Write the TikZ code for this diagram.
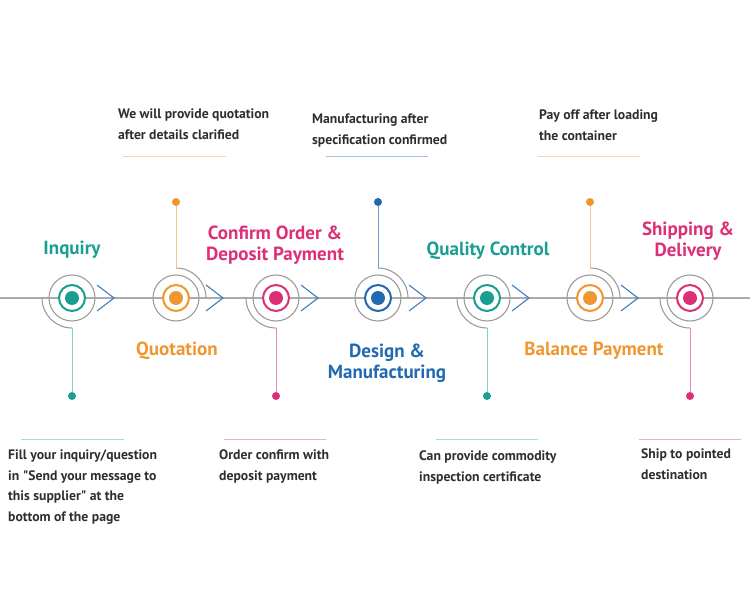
\documentclass[tikz,border=0pt]{standalone}
\usepackage{fontspec}
\setmainfont{PT Sans}
\usepackage{xcolor}

\definecolor{tealc}{HTML}{1A9E94}
\definecolor{orangec}{HTML}{F0962E}
\definecolor{pinkc}{HTML}{DC2F78}
\definecolor{bluec}{HTML}{2169B0}
\definecolor{ringgray}{HTML}{9C9C9C}
\definecolor{axisgray}{HTML}{ABABAB}
\definecolor{chevblue}{HTML}{3C7EC3}
\definecolor{textdark}{HTML}{2E2E2E}
\definecolor{tealline}{HTML}{7FCFCB}
\definecolor{orangeline}{HTML}{F6C690}
\definecolor{pinkline}{HTML}{E887B0}
\definecolor{blueline}{HTML}{6C9DCF}
\definecolor{tealrule}{HTML}{A6DCD9}
\definecolor{orangerule}{HTML}{F7D3A6}
\definecolor{pinkrule}{HTML}{EDAECB}
\definecolor{bluerule}{HTML}{A6C1DF}

\begin{document}
\begin{tikzpicture}[x=1pt,y=1pt,
  ring/.style={circle,draw=ringgray,line width=1.1pt,minimum size=46pt,inner sep=0pt},
  core/.style={circle,draw=#1,fill=white,line width=2pt,minimum size=26pt,inner sep=0pt},
  dot/.style={circle,fill=#1,minimum size=14pt,inner sep=0pt},
  tip/.style={circle,fill=#1,minimum size=8pt,inner sep=0pt},
  arcline/.style={draw=ringgray,line width=1.1pt},
  chev/.style={draw=chevblue,line width=1.1pt},
  title/.style={font=\bfseries\fontsize{19}{21}\selectfont,text=#1,align=center,inner sep=0pt},
  desc/.style={font=\bfseries\fontsize{13.7}{20.5}\selectfont,text=textdark,align=left,anchor=north west,inner sep=0pt}]
\useasboundingbox (0,0) rectangle (750,-599);

% axis
\draw[draw=axisgray,line width=1.1pt] (0,-298) -- (750,-298);

% stage 1: inquiry
\node[ring] (s1) at (72,-298) {};
\node[core=tealc] (c1) at (s1) {};
\node[dot=tealc] at (s1) {};
\draw[arcline] (42,-298) arc (180:270:30) coordinate (a1);
\node[tip=tealc] (d1) at (72,-396) {};
\draw[tealline,line width=1pt] (a1) -- (d1);
\draw[chev] (97,-285) -- (114,-298) -- (97,-311);

% stage 2: quotation
\node[ring] (s2) at (176,-298) {};
\node[core=orangec] (c2) at (s2) {};
\node[dot=orangec] at (s2) {};
\draw[arcline] (206,-298) arc (0:90:30) coordinate (a2);
\node[tip=orangec] (d2) at (176,-202) {};
\draw[orangeline,line width=1pt] (a2) -- (d2);
\draw[chev] (206,-285) -- (223,-298) -- (206,-311);

% stage 3: confirm order
\node[ring] (s3) at (276,-298) {};
\node[core=pinkc] (c3) at (s3) {};
\node[dot=pinkc] at (s3) {};
\draw[arcline] (246,-298) arc (180:270:30) coordinate (a3);
\node[tip=pinkc] (d3) at (276,-396) {};
\draw[pinkline,line width=1pt] (a3) -- (d3);
\draw[chev] (301,-285) -- (318,-298) -- (301,-311);

% stage 4: design
\node[ring] (s4) at (378,-298) {};
\node[core=bluec] (c4) at (s4) {};
\node[dot=bluec] at (s4) {};
\draw[arcline] (408,-298) arc (0:90:30) coordinate (a4);
\node[tip=bluec] (d4) at (378,-202) {};
\draw[blueline,line width=1pt] (a4) -- (d4);
\draw[chev] (409,-285) -- (426,-298) -- (409,-311);

% stage 5: quality control
\node[ring] (s5) at (487,-298) {};
\node[core=tealc] (c5) at (s5) {};
\node[dot=tealc] at (s5) {};
\draw[arcline] (457,-298) arc (180:270:30) coordinate (a5);
\node[tip=tealc] (d5) at (487,-396) {};
\draw[tealline,line width=1pt] (a5) -- (d5);
\draw[chev] (512,-285) -- (529,-298) -- (512,-311);

% stage 6: balance payment
\node[ring] (s6) at (590,-298) {};
\node[core=orangec] (c6) at (s6) {};
\node[dot=orangec] at (s6) {};
\draw[arcline] (620,-298) arc (0:90:30) coordinate (a6);
\node[tip=orangec] (d6) at (590,-202) {};
\draw[orangeline,line width=1pt] (a6) -- (d6);
\draw[chev] (621,-285) -- (638,-298) -- (621,-311);

% stage 7: shipping
\node[ring] (s7) at (690,-298) {};
\node[core=pinkc] (c7) at (s7) {};
\node[dot=pinkc] at (s7) {};
\draw[arcline] (660,-298) arc (180:270:30) coordinate (a7);
\node[tip=pinkc] (d7) at (690,-396) {};
\draw[pinkline,line width=1pt] (a7) -- (d7);

% titles
\node[title=tealc] (t1) at (72,-250) {Inquiry};
\node[title=orangec] (t2) at (177,-351) {Quotation};
\node[title=pinkc] (t3) at (275,-245) {Confirm Order \&\\Deposit Payment};
\node[title=bluec] (t4) at (387,-363) {Design \&\\Manufacturing};
\node[title=tealc] (t5) at (488,-251) {Quality Control};
\node[title=orangec] (t6) at (594,-351) {Balance Payment};
\node[title=pinkc] (t7) at (688,-241) {Shipping \&\\Delivery};

% rules
\draw[orangerule,line width=1pt] (123,-157) -- (226,-157);
\draw[bluerule,line width=1pt] (326,-157) -- (428,-157);
\draw[orangerule,line width=1pt] (538,-157) -- (640,-157);
\draw[tealrule,line width=1pt] (21,-439) -- (124,-439);
\draw[pinkrule,line width=1pt] (224,-439) -- (326,-439);
\draw[tealrule,line width=1pt] (436,-439) -- (538,-439);
\draw[pinkrule,line width=1pt] (639,-439) -- (741,-439);

% descriptions
\node[desc] (n2) at (118,-109) {We will provide quotation\\after details clarified};
\node[desc] (n4) at (312,-114) {Manufacturing after\\specification confirmed};
\node[desc] (n6) at (539,-110) {Pay off after loading\\the container};
\node[desc] (n1) at (8,-450) {Fill your inquiry/question\\in \textquotedbl Send your message to\\this supplier\textquotedbl{} at the\\bottom of the page};
\node[desc] (n3) at (219,-450) {Order confirm with\\deposit payment};
\node[desc] (n5) at (419,-451) {Can provide commodity\\inspection certificate};
\node[desc] (n7) at (641,-449) {Ship to pointed\\destination};
\end{tikzpicture}
\end{document}
